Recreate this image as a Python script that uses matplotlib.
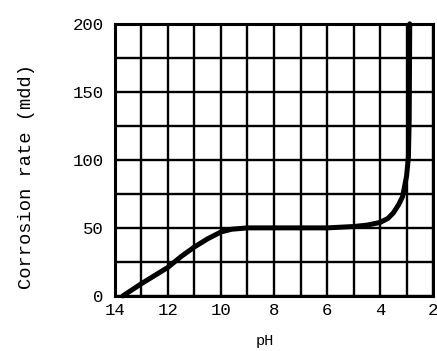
import matplotlib.pyplot as plt

# corrosion rate vs pH
ph = [13.7, 13.0, 12.5, 12.0, 11.5, 11.0, 10.5, 10.0, 9.6, 9.0, 8.0, 7.0,
      6.0, 5.0, 4.5, 4.0, 3.7, 3.5, 3.3, 3.15, 3.0, 2.93, 2.9, 2.88]
rate = [0, 9, 15, 21, 29, 36, 42, 47, 49, 50, 50, 50,
        50, 51, 52, 54, 57, 61, 67, 73, 88, 102, 130, 200]

x_ticks = [14, 12, 10, 8, 6, 4, 2]
y_ticks = [0, 50, 100, 150, 200]

plt.rcParams["font.family"] = ["Liberation Mono", "DejaVu Sans Mono"]

fig = plt.figure(figsize=(4.37, 3.51), dpi=100)
ax = fig.add_axes([0.263, 0.157, 0.728, 0.775])

ax.set_xlim(14, 2)
ax.set_ylim(0, 200)

# hand-drawn style grid: every 1 pH unit and every 25 mdd
ax.set_xticks(range(2, 15), minor=True)
ax.set_yticks(range(0, 201, 25), minor=True)
ax.set_xticks(x_ticks)
ax.set_yticks(y_ticks)
ax.grid(which="both", color="black", linewidth=1.7)
ax.set_axisbelow(True)
ax.tick_params(which="both", length=0, labelsize=12.5)
ax.tick_params(axis="y", pad=8)
ax.tick_params(axis="x", pad=5)

for s in ax.spines.values():
    s.set_linewidth(2.2)

ax.plot(ph, rate, color="black", linewidth=3.6, solid_capstyle="round",
        solid_joinstyle="round", clip_on=False, zorder=3)

ax.set_xlabel("pH", fontsize=11)
ax.xaxis.set_label_coords(0.47, -0.14)
ax.set_ylabel("Corrosion rate (mdd)", fontsize=13.5)
ax.yaxis.set_label_coords(-0.252, 0.44)

fig.savefig("out.png", dpi=100)
